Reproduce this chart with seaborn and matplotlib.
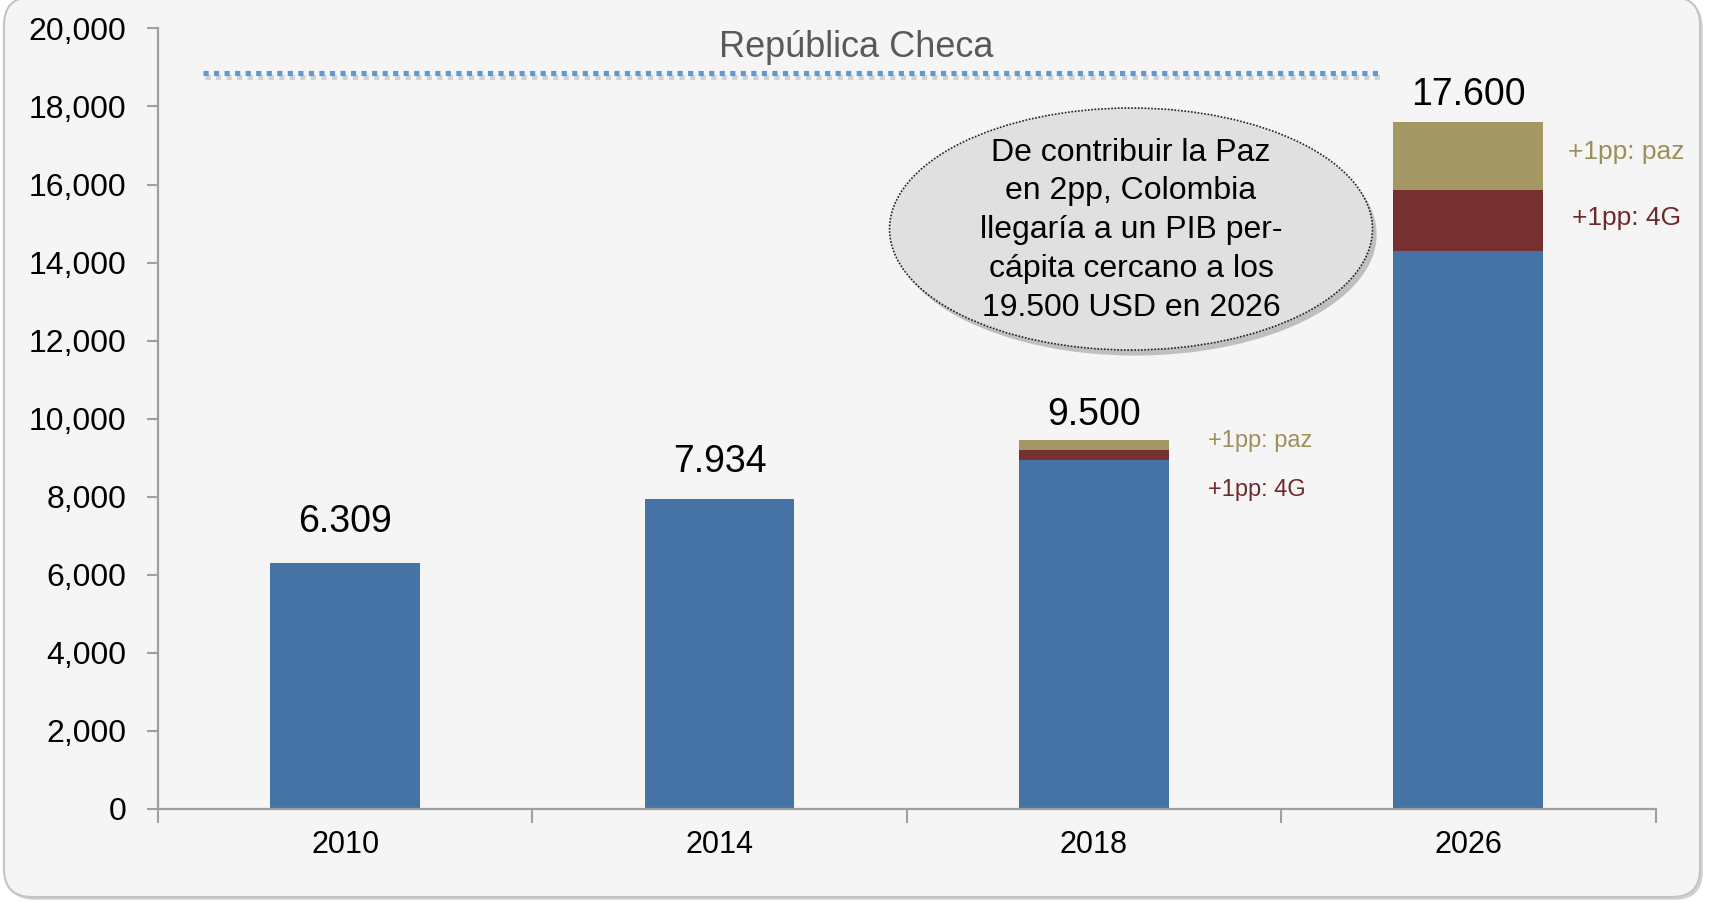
import matplotlib
matplotlib.use("Agg")
import matplotlib.pyplot as plt
import matplotlib.patheffects as pe
from matplotlib.patches import Ellipse, FancyBboxPatch
from matplotlib.ticker import FuncFormatter
from matplotlib import font_manager
import seaborn as sns
import pandas as pd

# ---------------- data ----------------
years = ["2010", "2014", "2018", "2026"]
base_gdp = [6309, 7934, 8945, 14300]
extra_4g = [0, 0, 255, 1550]
extra_paz = [0, 0, 255, 1750]
total_labels = ["6.309", "7.934", "9.500", "17.600"]
czech_level = 18850
czech_label = "República Checa"
callout_text = ("De contribuir la Paz\nen 2pp, Colombia\nllegaría a un PIB per-\n"
                "cápita cercano a los\n19.500 USD en 2026")
y_ticks = list(range(0, 20001, 2000))

# ---------------- style ----------------
BLUE = "#4573A5"
RED = "#76302F"
TAN = "#A39764"
TAN_TXT = "#9C8F5A"
RED_TXT = "#6E2A2A"
AXIS_C = "#A0A0A0"

sns.set_theme(style="white")
plt.rcParams['font.family'] = ['Liberation Sans', 'DejaVu Sans']
names = {f.name for f in font_manager.fontManager.ttflist}
narrow = ['Liberation Sans Narrow', 'Liberation Sans', 'DejaVu Sans'] if 'Liberation Sans Narrow' in names \
    else ['Liberation Sans', 'DejaVu Sans']

W, H = 17.1, 9.02
fig = plt.figure(figsize=(W, H), dpi=100, facecolor="white")

# rounded light-grey panel
panel = FancyBboxPatch((0.04, 0.05), 16.96, 9.0,
                       boxstyle="round,pad=0,rounding_size=0.28",
                       transform=fig.dpi_scale_trans, facecolor="#F5F5F5",
                       edgecolor="#C4C4C4", linewidth=1.5, zorder=-10,
                       path_effects=[pe.SimplePatchShadow(offset=(2, -2), alpha=0.25), pe.Normal()])
fig.patches.append(panel)

ax = fig.add_axes([158 / 1710, 1 - 809 / 902, (1655.5 - 158) / 1710, (809 - 28.4) / 902])
ax.set_zorder(5)
ax.patch.set_visible(False)

df = pd.DataFrame({"year": years, "base": base_gdp, "g4": extra_4g, "paz": extra_paz})
df["lvl2"] = df["base"] + df["g4"]
df["lvl3"] = df["lvl2"] + df["paz"]

common = dict(data=df, x="year", order=years, width=0.4, ax=ax, saturation=1,
              errorbar=None, linewidth=0)
sns.barplot(y="lvl3", color=TAN, **common)
sns.barplot(y="lvl2", color=RED, **common)
sns.barplot(y="base", color=BLUE, **common)

ax.set_xlim(-0.5, 3.5)
ax.set_ylim(0, 20000)
ax.set_xlabel("")
ax.set_ylabel("")

for s in ["top", "right"]:
    ax.spines[s].set_visible(False)
for s in ["left", "bottom"]:
    ax.spines[s].set_color(AXIS_C)
    ax.spines[s].set_linewidth(1.6)

ax.set_yticks(y_ticks)
ax.yaxis.set_major_formatter(FuncFormatter(lambda v, p: f"{int(v):,}"))
ax.tick_params(axis="y", direction="out", length=8, width=1.5, color=AXIS_C,
               labelsize=23, pad=15, labelcolor="black", left=True)
ax.set_xticks(range(len(years)))
ax.set_xticklabels(years)
ax.set_xticks([-0.5, 0.5, 1.5, 2.5, 3.5], minor=True)
ax.tick_params(axis="x", which="major", length=0, pad=15, labelsize=22, labelcolor="black")
ax.tick_params(axis="x", which="minor", direction="out", length=10, width=1.5, color=AXIS_C, bottom=True)
for t in ax.get_xticklabels():
    t.set_family(narrow)

# total labels above bars
offsets = [22, 20, 11, 12]
for i, (lab, tot) in enumerate(zip(total_labels, df["lvl3"])):
    ax.annotate(lab, (i, tot), xytext=(0, offsets[i]), textcoords="offset points",
                ha="center", va="baseline", fontsize=27, color="black")

# Czech Republic reference line
ax.plot([-0.38, 2.77], [czech_level, czech_level], linestyle=(0, (1, 1.05)), lw=3.7,
        color="#5B9BD5", dash_capstyle="butt",
        path_effects=[pe.SimpleLineShadow(offset=(1.5, -2.5), shadow_color="gray", alpha=0.3), pe.Normal()])
ax.text(1.365, 19520, czech_label, ha="center", va="center", fontsize=26, color="#595959")

# callout ellipse
ell = Ellipse((2.099, 14860), 1.29, 6200, facecolor="#E0E0E0", edgecolor="#222222",
              linestyle=(0, (1, 1)), linewidth=1.2, zorder=3,
              path_effects=[pe.SimplePatchShadow(offset=(3, -4), alpha=0.3), pe.Normal()])
ax.add_patch(ell)
ax.text(2.099, 14830, callout_text, ha="center", va="center", fontsize=23,
        linespacing=1.38, color="black", zorder=4)

# side labels for the increments
ax.text(2.305, 9440, "+1pp: paz", ha="left", va="center", fontsize=17, color=TAN_TXT)
ax.text(2.305, 8185, "+1pp: 4G", ha="left", va="center", fontsize=17, color=RED_TXT)
ax.text(3.422, 16845, "+1pp: paz", ha="center", va="center", fontsize=19, color=TAN_TXT)
ax.text(3.422, 15140, "+1pp: 4G", ha="center", va="center", fontsize=19, color=RED_TXT)

fig.savefig("out.png", dpi=100, facecolor="white")
